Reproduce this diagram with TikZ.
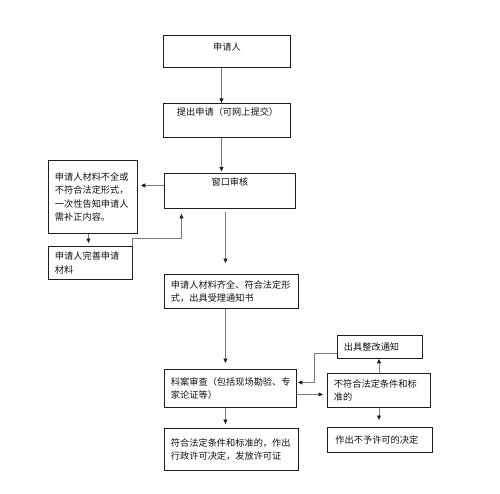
\documentclass[tikz,border=0pt]{standalone}
\usepackage{fontspec}
\setmainfont{Noto Sans CJK SC}
\usetikzlibrary{arrows.meta}
\definecolor{conn}{HTML}{7A7A7A}
\definecolor{edge}{HTML}{1E1E1E}
\definecolor{ink}{HTML}{111111}
\newcommand{\upby}[2]{\raisebox{#1}[0.8em][0.2em]{#2}}
\tikzset{
  box/.style={draw=edge, line width=0.9pt, anchor=north west, align=left,
    inner xsep=6.5pt, inner ysep=0pt, text=ink,
    font=\fontsize{9.2}{13.5}\selectfont},
  arr/.style={draw=conn, line width=0.9pt, -{Triangle[length=4.5pt,width=4pt,color=edge]}},
}
\begin{document}
\begin{tikzpicture}[x=1pt,y=-1pt]
\useasboundingbox (0,0) rectangle (500,494);
% main column
\node[box, text width=114pt, minimum height=32pt, align=center] (b1) at (163,35) {\upby{4pt}{申请人}};
\node[box, text width=100pt, inner xsep=13.5pt, minimum height=34pt] (b2) at (163,103) {\upby{7.5pt}{提出申请（可网上提交）}};
\node[box, text width=118pt, minimum height=35pt, align=center] (b3) at (164,173) {\upby{8pt}{窗口审核}};
\node[box, text width=76pt, minimum height=73pt] (bl) at (48,160) {申请人材料不全或\\不符合法定形式，\\一次性告知申请人\\需补正内容。};
\node[box, text width=71pt, minimum height=33pt] (bl2) at (48,246) {申请人完善申请\\材料};
\node[box, text width=121pt, minimum height=34pt] (b4) at (164,274) {申请人材料齐全、符合法定形\\式，出具受理通知书};
\node[box, text width=119pt, minimum height=38pt] (b5) at (164,369) {科案审查（包括现场勘验、专\\家论证等）};
\node[box, text width=121pt, minimum height=42pt] (b6) at (164,428) {符合法定条件和标准的，作出\\行政许可决定，发放许可证};
% right column
\node[box, text width=72pt, minimum height=23pt] (r1) at (337,335) {出具整改通知};
\node[box, text width=90pt, minimum height=34pt] (r2) at (327,373) {不符合法定条件和标\\准的};
\node[box, text width=89pt, inner xsep=8pt, minimum height=25pt] (r3) at (327,427) {作出不予许可的决定};
% connectors
\draw[arr] ([xshift=-5.5pt]b1.south) -- ([xshift=-5.5pt]b2.north);
\draw[arr, shorten >=1.5pt] ([xshift=-5.5pt]b2.south) -- ([xshift=-5.5pt]b2.south |- b3.north);
\draw[arr, shorten >=3pt] ([yshift=5.5pt]b3.west) -- ([yshift=5.5pt]b3.west -| bl.east);
\draw[arr, shorten >=3pt] ([xshift=-4.5pt]bl.south) -- ([xshift=-4.5pt]bl.south |- bl2.north);
\draw[arr, shorten >=5pt] (bl2.north east) -- ++(0,-8) -| ([xshift=-48.5pt]b3.south);
\draw[arr, shorten <=3pt, shorten >=11pt] ([xshift=-4.5pt]b3.south) -- ([xshift=-4.5pt]b3.south |- b4.north);
\draw[arr, shorten >=6pt] ([xshift=-6pt]b4.south) -- ([xshift=-6pt]b4.south |- b5.north);
\draw[arr, shorten >=4pt] ([xshift=-5pt]b5.south) -- ([xshift=-5pt]b5.south |- b6.north);
\draw[arr, shorten >=4pt] ([yshift=-6pt]b5.east) -- ([yshift=-6pt]b5.east -| r2.west);
\draw[arr] (r2.north) -- (r2.north |- r1.south);
\draw[arr, shorten >=7pt] (r2.south) -- (r2.south |- r3.north);
\draw[arr, shorten >=1pt] ([yshift=-6.5pt]r1.west) -- ++(-23,0) |- ([yshift=6pt]b5.east);
\end{tikzpicture}
\end{document}
